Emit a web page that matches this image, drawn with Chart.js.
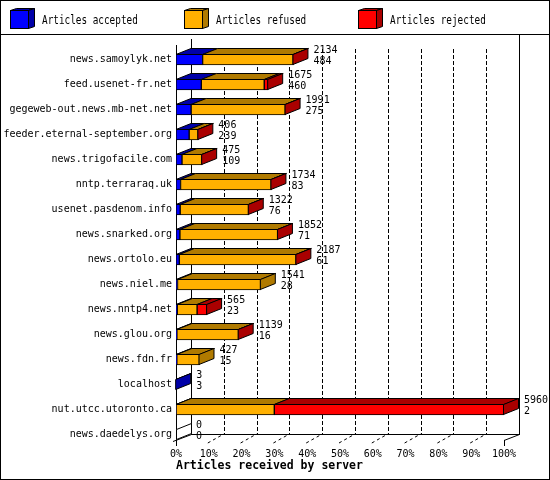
<!DOCTYPE html>
<html>
<head>
<meta charset="utf-8">
<title>Articles received by server</title>
<script src="https://cdn.jsdelivr.net/npm/chart.js@4.4.0/dist/chart.umd.min.js"></script>
<style>
  html, body { margin: 0; padding: 0; background: #fff; }
  #chart { display: block; }
</style>
</head>
<body>
<canvas id="chart" width="550" height="480"></canvas>
<script>
"use strict";

// Data
var servers = [
    "news.samoylyk.net", "feed.usenet-fr.net", "gegeweb-out.news.mb-net.net",
    "feeder.eternal-september.org", "news.trigofacile.com", "nntp.terraraq.uk",
    "usenet.pasdenom.info", "news.snarked.org", "news.ortolo.eu", "news.niel.me",
    "news.nntp4.net", "news.glou.org", "news.fdn.fr", "localhost",
    "nut.utcc.utoronto.ca", "news.daedelys.org"
];
var accepted = [484, 460, 275, 239, 109, 83, 76, 71, 61, 28, 23, 16, 15, 3, 2, 0];
var refused  = [1646, 1143, 1711, 164, 364, 1647, 1243, 1778, 2122, 1513, 360, 1120, 412, 0, 1784, 0];
var rejected = [4, 72, 5, 3, 2, 4, 3, 3, 4, 0, 182, 3, 0, 0, 4174, 0];
var seriesNames = ["Articles accepted", "Articles refused", "Articles rejected"];
var axisTitle = "Articles received by server";

// Styles
var frontColors = ["#0000ff", "#ffb000", "#ff0000"];
var darkColors  = ["#0000a8", "#b07a00", "#aa0000"];
var depth = { x: 15, y: 6 };
var monoFont = "'DejaVu Sans Mono', 'Liberation Mono', monospace";

var totals = servers.map(function (s, i) {
    return accepted[i] + refused[i] + rejected[i];
});
var maxTotal = Math.max.apply(null, totals);
function pct(arr) {
    return arr.map(function (v) { return v / maxTotal * 100; });
}
var series = [accepted, refused, rejected];

function face(ctx, pts, fill) {
    ctx.beginPath();
    ctx.moveTo(pts[0][0], pts[0][1]);
    for (var i = 1; i < pts.length; i++) {
        ctx.lineTo(pts[i][0], pts[i][1]);
    }
    ctx.closePath();
    ctx.fillStyle = fill;
    ctx.fill();
    ctx.stroke();
}

// 3D frame, bar tops/sides, value labels, legend
var box3d = {
    id: "box3d",
    beforeDatasetsDraw: function (chart) {
        var ctx = chart.ctx, xs = chart.scales.x, ys = chart.scales.y;
        var area = chart.chartArea;
        var x0 = xs.getPixelForValue(0), x100 = xs.getPixelForValue(100);
        var floorF = ys.getPixelForValue(servers.length - 1) + 5.5;
        var floorB = floorF - depth.y;
        var wallTop = area.top - 8;

        ctx.save();
        ctx.strokeStyle = "#000";
        ctx.lineWidth = 1;

        // dashed grid on back wall
        ctx.setLineDash([4, 2]);
        for (var v = 10; v < 100; v += 10) {
            var xb = Math.round(xs.getPixelForValue(v) + depth.x) + 0.5;
            ctx.beginPath();
            ctx.moveTo(xb, area.top + 2);
            ctx.lineTo(xb, floorB);
            ctx.stroke();
        }
        // tick diagonals on floor
        ctx.setLineDash([3, 3]);
        for (v = 10; v < 100; v += 10) {
            var xf = xs.getPixelForValue(v);
            ctx.beginPath();
            ctx.moveTo(xf - 1, floorF + 3);
            ctx.lineTo(xf + depth.x, floorB);
            ctx.stroke();
        }
        ctx.setLineDash([]);

        // back wall, front axis, right wall
        ctx.beginPath();
        ctx.moveTo(Math.round(x0 + depth.x) + 0.5, wallTop);
        ctx.lineTo(Math.round(x0 + depth.x) + 0.5, floorB + 0.5);
        ctx.moveTo(Math.round(x0) + 0.5, wallTop + depth.y);
        ctx.lineTo(Math.round(x0) + 0.5, floorF + 6);
        ctx.moveTo(Math.round(x100 + depth.x) + 0.5, 35);
        ctx.lineTo(Math.round(x100 + depth.x) + 0.5, floorB + 0.5);
        // floor
        ctx.moveTo(Math.round(x0 + depth.x), floorB + 0.5);
        ctx.lineTo(Math.round(x100 + depth.x) + 1, floorB + 0.5);
        ctx.moveTo(x0 - 3, floorF + 1.5);
        ctx.lineTo(x0 + depth.x + 0.5, floorB + 0.5);
        ctx.moveTo(x100, floorF + 0.5);
        ctx.lineTo(x100 + depth.x + 0.5, floorB + 0.5);
        ctx.moveTo(x100 + 0.5, floorF);
        ctx.lineTo(x100 + 0.5, floorF + 6);
        ctx.stroke();
        ctx.restore();
    },
    afterDatasetsDraw: function (chart) {
        var ctx = chart.ctx, xs = chart.scales.x;
        var metas = [0, 1, 2].map(function (i) { return chart.getDatasetMeta(i); });
        ctx.save();
        ctx.strokeStyle = "#000";
        ctx.lineWidth = 1;
        for (var j = 0; j < servers.length; j++) {
            var ref = metas[0].data[j];
            var yT = ref.y - ref.height / 2 + 0.5;
            var yB = ref.y + ref.height / 2 - 0.5;
            var last = -1;
            // top faces
            for (var d = 0; d < 3; d++) {
                var el = metas[d].data[j];
                if (series[d][j] <= 0) continue;
                last = d;
                face(ctx, [[el.base, yT], [el.x, yT], [el.x + depth.x, yT - depth.y],
                    [el.base + depth.x, yT - depth.y]], darkColors[d]);
            }
            // side face
            var xe = last >= 0 ? metas[last].data[j].x - 0.5 : Math.round(xs.getPixelForValue(0)) + 0.5;
            face(ctx, [[xe, yT], [xe + depth.x, yT - depth.y], [xe + depth.x, yB - depth.y], [xe, yB]],
                last >= 0 ? darkColors[last] : "#fff");

            // value labels: total and accepted
            ctx.fillStyle = "#000";
            ctx.font = "10px " + monoFont;
            ctx.textAlign = "left";
            ctx.textBaseline = "middle";
            var xt = xs.getPixelForValue(totals[j] / maxTotal * 100) + depth.x + 5;
            ctx.fillText(String(totals[j]), xt, ref.y - 9.5);
            ctx.fillText(String(accepted[j]), xt, ref.y + 1.5);
        }
        ctx.restore();
    },
    afterDraw: function (chart) {
        var ctx = chart.ctx;
        ctx.save();
        ctx.strokeStyle = "#000";
        ctx.lineWidth = 1;

        // legend
        var lx = [10, 184, 358];
        for (var i = 0; i < 3; i++) {
            var x = lx[i] + 0.5, y = 10.5, s = 18;
            face(ctx, [[x, y], [x + s, y], [x + s + 6, y - 2], [x + 6, y - 2]], darkColors[i]);
            face(ctx, [[x + s, y], [x + s + 6, y - 2], [x + s + 6, y + s - 2], [x + s, y + s]], darkColors[i]);
            ctx.fillStyle = frontColors[i];
            ctx.fillRect(x, y, s, s);
            ctx.strokeRect(x, y, s, s);

            ctx.save();
            ctx.translate(lx[i] + 32, 20.5);
            ctx.scale(0.72, 1);
            ctx.fillStyle = "#000";
            ctx.font = "13px " + monoFont;
            ctx.textAlign = "left";
            ctx.textBaseline = "middle";
            ctx.fillText(seriesNames[i], 0, 0);
            ctx.restore();
        }

        // separator and outer border
        ctx.beginPath();
        ctx.moveTo(0, 34.5);
        ctx.lineTo(550, 34.5);
        ctx.stroke();
        ctx.strokeRect(0.5, 0.5, 549, 479);
        ctx.restore();
    }
};

var ctx = document.getElementById("chart").getContext("2d");
var chart = new Chart(ctx, {
    type: "bar",
    data: {
        labels: servers,
        datasets: [0, 1, 2].map(function (i) {
            return {
                label: seriesNames[i],
                data: pct(series[i]),
                backgroundColor: frontColors[i],
                borderColor: "#000",
                borderWidth: 1,
                borderSkipped: false,
                barThickness: 11
            };
        })
    },
    options: {
        indexAxis: "y",
        responsive: false,
        animation: false,
        devicePixelRatio: 1,
        layout: { padding: { top: 47, right: 46, bottom: 0, left: 0 } },
        plugins: {
            legend: { display: false },
            tooltip: { enabled: false }
        },
        scales: {
            x: {
                stacked: true,
                min: 0,
                max: 100,
                grid: { display: false, drawTicks: false },
                border: { display: false },
                ticks: {
                    stepSize: 10,
                    padding: 1,
                    maxRotation: 0,
                    autoSkip: false,
                    color: "#000",
                    font: { family: monoFont, size: 10 },
                    callback: function (v) { return v + "%"; }
                },
                title: {
                    display: true,
                    text: axisTitle,
                    align: "start",
                    color: "#000",
                    font: { family: monoFont, size: 11.5, weight: "bold" },
                    padding: { top: 0, bottom: 7 }
                },
                afterFit: function (s) { s.height = 33; }
            },
            y: {
                stacked: true,
                grid: { display: false, drawTicks: false },
                border: { display: false },
                ticks: {
                    padding: 4,
                    autoSkip: false,
                    color: "#000",
                    font: { family: monoFont, size: 10 }
                },
                afterFit: function (s) { s.width = 176; }
            }
        }
    },
    plugins: [box3d]
});
</script>
</body>
</html>
